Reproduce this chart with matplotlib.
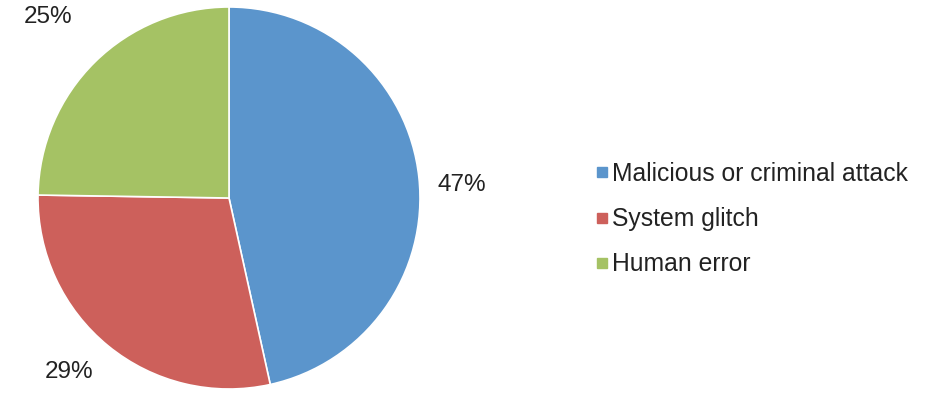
import numpy as np
import matplotlib.pyplot as plt
from matplotlib.lines import Line2D

plt.rcParams['font.family'] = ['Liberation Sans', 'DejaVu Sans']

categories = ['Malicious or criminal attack', 'System glitch', 'Human error']
values = [47, 29, 25]
colors = ['#5B95CC', '#CD605B', '#A5C264']
# label placement: distance from centre (in radii) and angle nudge (deg)
label_dist = [1.22, 1.24, 1.34]
label_shift = [-3.0, -3.4, 0.5]


def main():
    fig = plt.figure(figsize=(9.32, 3.95), dpi=100)
    ax = fig.add_axes([38 / 932, 6 / 395, 382 / 932, 382 / 395])

    wedges, _ = ax.pie(values, colors=colors, startangle=90, counterclock=False,
                       wedgeprops=dict(edgecolor='white', linewidth=1.2))
    ax.set_xlim(-1.0, 1.0)
    ax.set_ylim(-1.0, 1.0)
    ax.set_aspect('equal')

    for w, v, d, s in zip(wedges, values, label_dist, label_shift):
        ang = np.deg2rad((w.theta1 + w.theta2) / 2 + s)
        ax.text(d * np.cos(ang), d * np.sin(ang), f"{v}%", ha='center', va='center',
                fontsize=17.5, color='#222222')

    handles = [Line2D([], [], marker='s', linestyle='none', markersize=7,
                      markerfacecolor=c, markeredgecolor=c) for c in colors]
    fig.legend(handles, categories, loc='center left', bbox_to_anchor=(575 / 932, 0.445),
               frameon=False, fontsize=17.8, labelspacing=0.86, handlelength=0.4,
               handletextpad=0.2, labelcolor='#222222')

    fig.savefig('out.png', dpi=100)


if __name__ == '__main__':
    main()
